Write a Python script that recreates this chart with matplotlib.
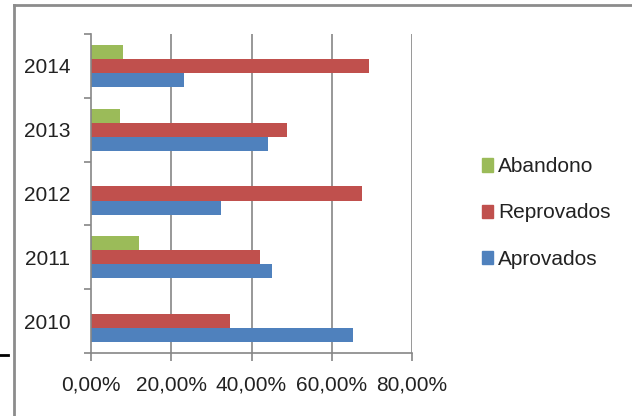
import numpy as np
import matplotlib
matplotlib.use("Agg")
import matplotlib.pyplot as plt
from matplotlib.lines import Line2D
from matplotlib.patches import Patch

plt.rcParams['font.family'] = ['Liberation Sans Narrow', 'Liberation Sans', 'DejaVu Sans']

anos = ['2010', '2011', '2012', '2013', '2014']
aprovados = [0.653, 0.452, 0.323, 0.441, 0.233]
reprovados = [0.347, 0.422, 0.676, 0.488, 0.692]
abandono = [0.0, 0.120, 0.0, 0.073, 0.080]
xticks = [0.0, 0.2, 0.4, 0.6, 0.8]

azul = '#4F81BD'
vermelho = '#C0504D'
verde = '#9BBB59'
cinza = '#868686'

fig = plt.figure(figsize=(6.32, 4.16), dpi=100)
ax = fig.add_axes([91 / 632, 1 - 353 / 416, (412 - 91) / 632, (353 - 34) / 416])

y = np.arange(len(anos))
h = 0.22
ax.barh(y - h, aprovados, height=h, color=azul, label='Aprovados')
ax.barh(y, reprovados, height=h, color=vermelho, label='Reprovados')
ax.barh(y + h, abandono, height=h, color=verde, label='Abandono')

ax.set_xlim(0, 0.8)
ax.set_ylim(-0.5, len(anos) - 0.5)
ax.set_xticks(xticks)
ax.set_xticklabels([('%.2f%%' % (v * 100)).replace('.', ',') for v in xticks])

# category boundaries as major ticks, labels on minor ticks
ax.set_yticks(np.arange(-0.5, len(anos), 1.0))
ax.set_yticklabels([])
ax.set_yticks(y, minor=True)
ax.set_yticklabels(anos, minor=True)
ax.tick_params(axis='y', which='major', length=5, color=cinza, width=1.2)
ax.tick_params(axis='y', which='minor', length=0, pad=15, labelsize=15, labelcolor='#222222')
ax.tick_params(axis='x', length=6, color=cinza, width=1.2, pad=10, labelsize=15, labelcolor='#222222')

for x in xticks[1:]:
    ax.axvline(x, color=cinza, lw=1.2, zorder=0)
for s in ['top', 'right']:
    ax.spines[s].set_visible(False)
for s in ['left', 'bottom']:
    ax.spines[s].set_color(cinza)
    ax.spines[s].set_linewidth(1.2)

handles = [Patch(color=verde, label='Abandono'),
           Patch(color=vermelho, label='Reprovados'),
           Patch(color=azul, label='Aprovados')]
fig.legend(handles=handles, loc='center left', bbox_to_anchor=(463 / 632, 1 - 213 / 416),
           frameon=False, fontsize=15, handlelength=0.55, handleheight=0.6,
           handletextpad=0.25, labelspacing=1.3, labelcolor='#222222')

# outer frame of the screenshot
fig.add_artist(Line2D([14 / 632, 1], [1 - 5 / 416] * 2, color='#8c8c8c', lw=2))
fig.add_artist(Line2D([14 / 632] * 2, [0, 1 - 5 / 416], color='#8c8c8c', lw=2))
fig.add_artist(Line2D([0, 8 / 632], [1 - 355 / 416] * 2, color='black', lw=2))

fig.savefig('out.png', dpi=100)
